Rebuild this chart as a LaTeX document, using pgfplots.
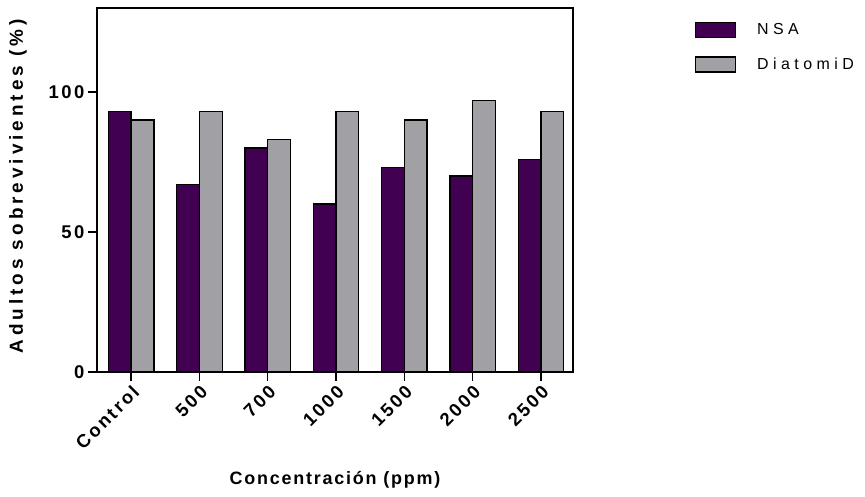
\documentclass[border=0pt]{standalone}
\usepackage{fontspec}
\setmainfont{Liberation Sans}
\newfontfamily\lsA[LetterSpace=21]{Liberation Sans}
\newfontfamily\lsB[LetterSpace=10]{Liberation Sans}
\newfontfamily\lsC[LetterSpace=28]{Liberation Sans}
\newfontfamily\lsD[LetterSpace=14]{Liberation Sans}
\usepackage{pgfplots}
\pgfplotsset{compat=1.18}
\definecolor{nsa}{RGB}{66,0,82}
\definecolor{dia}{RGB}{161,160,165}

\begin{document}
\begin{tikzpicture}[x=1bp,y=1bp]
\path[use as bounding box] (0,0) rectangle (865,497);
\begin{axis}[
  at={(97bp,125bp)}, anchor=south west, scale only axis,
  width=476bp, height=364bp,
  xmin=-0.5, xmax=6.47, ymin=0, ymax=130,
  ybar, bar width=0.333,
  xtick={0,1,2,3,4,5,6},
  xticklabels={Control,500,700,1000,1500,2000,2500},
  ytick={0,50,100},
  tick pos=left, tick align=outside,
  major tick length=9bp,
  axis line style={line width=1.3bp},
  every tick/.style={black, line width=1.3bp},
  /pgf/number format/assume math mode=true,
  yticklabel style={font=\lsD\bfseries\fontsize{18.5}{21}\selectfont},
  xticklabel style={font=\lsD\bfseries\fontsize{18.5}{21}\selectfont, rotate=45, anchor=north east, inner sep=2bp},
  xlabel={Concentración (ppm)},
  ylabel={Adultos sobrevivientes (\%)},
  xlabel style={font=\lsB\bfseries\fontsize{18}{21}\selectfont, at={(axis description cs:0.5,-0.297)}, anchor=center},
  ylabel style={font=\lsA\bfseries\fontsize{19}{22}\selectfont, at={(axis description cs:-0.166,0.51)}, anchor=center, rotate=0},
  legend image code/.code={\draw[#1, line width=1.3bp] (0bp,-7.5bp) rectangle (40bp,7.5bp);},
  legend cell align=left,
  legend style={draw=none, fill=none, at={(1.256,0.9615)}, anchor=north west,
    inner sep=0pt, outer sep=0pt, row sep=18bp,
    nodes={inner sep=0pt},
    /tikz/every odd column/.append style={column sep=21bp},
    font=\lsC\fontsize{16}{19}\selectfont},
]
\addplot[fill=nsa, draw=black, line width=1.3bp, bar shift=-0.1665] coordinates {
  (0,93) (1,67) (2,80) (3,60) (4,73) (5,70) (6,76)};
\addlegendentry{NSA}
\addplot[fill=dia, draw=black, line width=1.3bp, bar shift=0.1665] coordinates {
  (0,90) (1,93) (2,83) (3,93) (4,90) (5,97) (6,93)};
\addlegendentry{DiatomiD}
\end{axis}
\end{tikzpicture}
\end{document}
